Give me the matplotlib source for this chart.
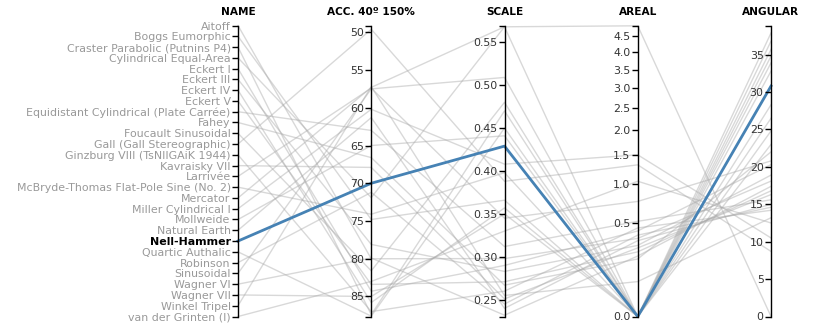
import numpy as np
import matplotlib.pyplot as plt

# projection names and values
names = ["Aitoff", "Boggs Eumorphic", "Craster Parabolic (Putnins P4)", "Cylindrical Equal-Area",
         "Eckert I", "Eckert III", "Eckert IV", "Eckert V",
         "Equidistant Cylindrical (Plate Carrée)", "Fahey", "Foucault Sinusoidal",
         "Gall (Gall Stereographic)", "Ginzburg VIII (TsNIIGAiK 1944)", "Kavraisky VII",
         "Larrivée", "McBryde-Thomas Flat-Pole Sine (No. 2)", "Mercator", "Miller Cylindrical I",
         "Mollweide", "Natural Earth", "Nell-Hammer", "Quartic Authalic", "Robinson",
         "Sinusoidal", "Wagner VI", "Wagner VII", "Winkel Tripel", "van der Grinten (I)"]
acc = [80.0, 74.8, 87.4, 71.9, 84.3, 78.1, 85.8, 83.4, 63.0, 66.6, 81.6, 49.6, 87.0, 67.9,
       57.4, 74.1, 57.3, 60.2, 65.0, 61.3, 70.0, 87.6, 71.2, 57.5, 79.9, 85.0, 57.2, 83.0]
scale = [0.298, 0.366, 0.470, 0.568, 0.290, 0.283, 0.357, 0.271, 0.312, 0.267, 0.480, 0.388,
         0.260, 0.251, 0.345, 0.398, 0.568, 0.408, 0.441, 0.240, 0.429, 0.450, 0.245, 0.509,
         0.232, 0.350, 0.255, 0.330]
areal = [0.35, 0.0, 0.0, 0.0, 0.42, 0.29, 0.0, 0.24, 0.52, 0.19, 0.0, 1.32, 0.45, 0.27,
         0.76, 0.0, 4.85, 1.50, 0.0, 0.33, 0.0, 0.0, 0.38, 0.0, 0.21, 0.0, 0.07, 1.05]
angular = [18.1, 26.5, 33.9, 37.9, 20.3, 18.9, 24.8, 16.8, 15.6, 22.0, 35.7, 8.7, 14.2, 16.3,
           20.8, 28.3, 0.0, 10.5, 32.8, 15.0, 30.8, 34.8, 14.6, 36.8, 17.4, 23.0, 13.2, 12.5]
highlight = "Nell-Hammer"

titles = ["NAME", "ACC. 40º 150%", "SCALE", "AREAL", "ANGULAR"]
acc_ticks = [50, 55, 60, 65, 70, 75, 80, 85]
scale_ticks = [0.25, 0.30, 0.35, 0.40, 0.45, 0.50, 0.55]
areal_ticks = [0.0, 0.5, 1.0, 1.5, 2.0, 2.5, 3.0, 3.5, 4.0, 4.5]
angular_ticks = [0, 5, 10, 15, 20, 25, 30, 35]

W, H = 819, 324
fig = plt.figure(figsize=(W / 100, H / 100), dpi=100)
bg = fig.add_axes([0, 0, 1, 1], zorder=0)
bg.axis("off")

xpix = np.linspace(238, 771, 5)
top, bottom = 25.5, 316.5
fs = 7.9

axes = []
for i, xp in enumerate(xpix):
    ax = fig.add_axes([xp / W, (H - bottom) / H, 0.0005, (bottom - top) / H], zorder=2)
    ax.patch.set_visible(False)
    for s in ["top", "right", "bottom"]:
        ax.spines[s].set_visible(False)
    ax.spines["left"].set_linewidth(1)
    ax.set_xticks([])
    ax.tick_params(axis="y", which="both", length=4.3, width=1, pad=1,
                   labelsize=fs, labelcolor="#333")
    fig.text(xp / W, 1 - 12 / H, titles[i], ha="center", va="center",
             fontsize=7.6, fontweight="bold")
    axes.append(ax)

# name axis
ax = axes[0]
ax.set_ylim(len(names) - 1, 0)
ax.set_yticks(range(len(names)))
ax.set_yticklabels(names)
for lab in ax.get_yticklabels():
    if lab.get_text() == highlight:
        lab.set_color("black")
        lab.set_fontweight("bold")
    else:
        lab.set_color("#999")

# numeric axes
lims = [(87.65, 49.1), (0.2305, 0.5695), (0, 4.86), (0, 38.9)]
tick_sets = [acc_ticks, scale_ticks, areal_ticks, angular_ticks]
fmts = ["{:.0f}", "{:.2f}", "{:.1f}", "{:.0f}"]
for k, ax in enumerate(axes[1:]):
    if k == 2:
        ax.set_yscale("function", functions=(lambda v: np.sqrt(np.clip(v, 0, None)),
                                             lambda v: np.square(v)))
    ax.set_ylim(*lims[k])
    ax.set_yticks(tick_sets[k])
    ax.set_yticklabels([fmts[k].format(t) for t in tick_sets[k]])
    ax.set_yticks(list(lims[k]), minor=True)
    ax.tick_params(axis="y", which="minor", length=4.3, width=1)

# polylines through each axis' own scale
inv = fig.transFigure.inverted()
columns = [list(range(len(names))), acc, scale, areal, angular]
for j, name in enumerate(names):
    pts = []
    for ax, col in zip(axes, columns):
        pts.append(inv.transform(ax.transData.transform((0, col[j]))))
    pts = np.array(pts)
    if name == highlight:
        continue
    bg.plot(pts[:, 0], pts[:, 1], transform=fig.transFigure, color="#aaa",
            alpha=0.45, lw=1, clip_on=False)

j = names.index(highlight)
pts = np.array([inv.transform(ax.transData.transform((0, col[j])))
                for ax, col in zip(axes, columns)])
bg.plot(pts[:, 0], pts[:, 1], transform=fig.transFigure, color="steelblue",
        lw=2, clip_on=False, zorder=3)

fig.savefig("out.png", dpi=100)
